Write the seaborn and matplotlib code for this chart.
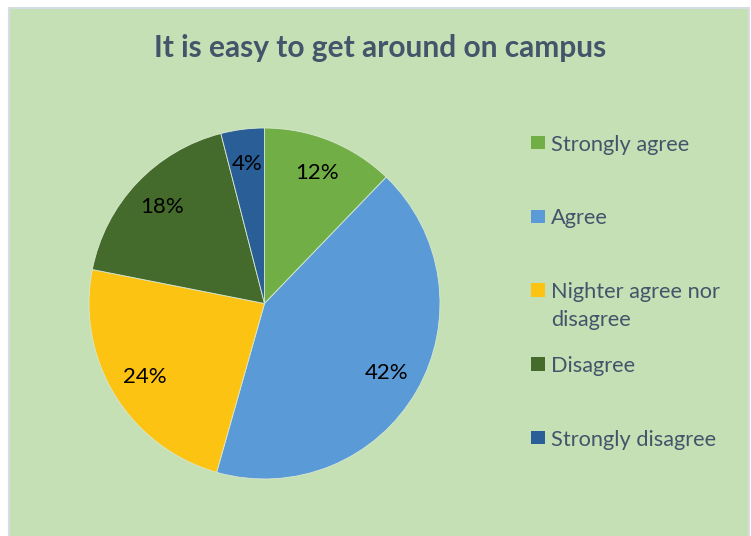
import matplotlib
matplotlib.use("Agg")
import matplotlib.pyplot as plt
from matplotlib.patches import Rectangle
import numpy as np
import seaborn as sns

categories = ["Strongly agree", "Agree", "Nighter agree nor\ndisagree", "Disagree", "Strongly disagree"]
values = [12.2, 42.2, 23.7, 17.9, 4.0]
colors = ["#71AF46", "#5A9BD7", "#FDC312", "#446B2C", "#2A5E96"]

sns.set_theme(style="white")
plt.rcParams["font.family"] = ["Lato", "DejaVu Sans"]

W, H = 751, 536
fig = plt.figure(figsize=(W / 100, H / 100), dpi=100)
fig.patch.set_facecolor("white")

# chart area background
bg = Rectangle((9 / W, -0.01), 740 / W, (H - 8) / H + 0.01, transform=fig.transFigure,
               facecolor="#C5E0B4", edgecolor="#D6DCE4", linewidth=1.5, zorder=-10)
fig.add_artist(bg)

ax = fig.add_axes([89 / W, (H - 479) / H, 351 / W, 351 / H])
ax.patch.set_alpha(0)
wedges, texts, autotexts = ax.pie(values, colors=colors, startangle=90, counterclock=False,
                                  radius=1.0, autopct=lambda p: f"{p:.0f}%", pctdistance=0.8,
                                  wedgeprops=dict(edgecolor="#D9E8D0", linewidth=0.6),
                                  textprops=dict(fontsize=16, color="black"))
ax.set_xlim(-1, 1)
ax.set_ylim(-1, 1)
ax.set_aspect("equal")
ax.axis("off")

fig.text(380 / W, 1 - 48 / H, "It is easy to get around on campus", ha="center", va="center",
         fontsize=21.5, fontweight="bold", color="#44546A")

# legend (manual layout, first lines evenly spaced)
leg_x0, leg_y0, leg_step, line_h, sq = 531, 142.5, 73.75, 28, 13.5
for i, (cat, col) in enumerate(zip(categories, colors)):
    yc = leg_y0 + i * leg_step
    fig.add_artist(Rectangle((leg_x0 / W, 1 - (yc + sq / 2) / H), sq / W, sq / H,
                             transform=fig.transFigure, facecolor=col, edgecolor="none"))
    for j, line in enumerate(cat.split("\n")):
        fig.text(551 / W, 1 - (yc + j * line_h) / H, line, ha="left", va="center_baseline",
                 fontsize=15.7, color="#44546A")

fig.savefig("out.png", dpi=100)
